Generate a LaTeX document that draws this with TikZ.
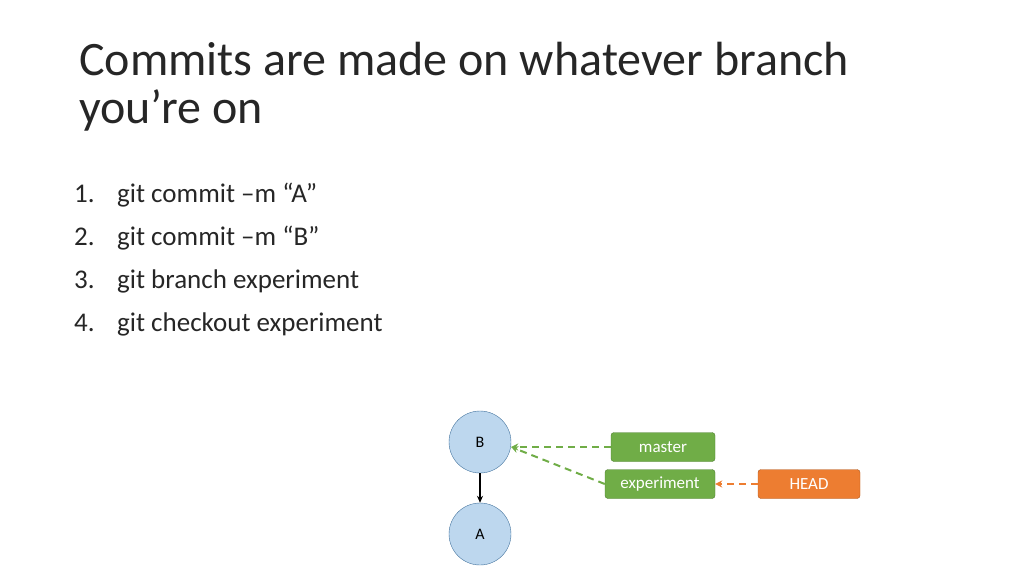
\documentclass[tikz,border=0pt]{standalone}
\usepackage{fontspec}
\setmainfont{Carlito}
\usetikzlibrary{arrows.meta,positioning}
\definecolor{commitfill}{HTML}{BDD7EE}
\definecolor{commitline}{HTML}{41719C}
\definecolor{branchgreen}{HTML}{70AD47}
\definecolor{branchline}{HTML}{507E32}
\definecolor{headorange}{HTML}{ED7D31}
\definecolor{headline}{HTML}{AE5A21}
\definecolor{titlegray}{HTML}{262626}
\tikzset{
  commit/.style={circle, draw=commitline, fill=commitfill, minimum size=62pt, inner sep=0pt, font=\fontsize{16pt}{18pt}\selectfont},
  branch/.style={draw=branchline, fill=branchgreen, rounded corners=3pt, minimum height=29pt, text=white, font=\fontsize{17pt}{19pt}\selectfont, inner sep=0pt},
  headbox/.style={branch, draw=headline, fill=headorange},
  ptr/.style={-{Stealth[length=7pt,width=7pt]}, dashed, dash pattern=on 7pt off 5pt, line width=2pt},
  item/.style={anchor=base west, font=\fontsize{27pt}{30pt}\selectfont, text=titlegray}
}
\begin{document}
\begin{tikzpicture}[x=1pt, y=-1pt]
    \useasboundingbox (0,0) rectangle (1024,576);

    % title
    \node[anchor=base west, inner sep=0pt, font=\fontsize{48pt}{52pt}\selectfont, text=titlegray] (title) at (79,75) {Commits are made on whatever branch};
    \node[anchor=base west, inner sep=0pt, font=\fontsize{48pt}{52pt}\selectfont, text=titlegray] (title2) at (79,123) {you’re on};

    % commands
    \foreach \N/\T [count=\i] in {1/git commit –m “A”, 2/git commit –m “B”, 3/git branch experiment, 4/git checkout experiment} {
      \node[item, inner sep=0pt] (num\i) at (74, 159+43*\i) {\N.};
      \node[item, inner sep=0pt] (cmd\i) at (117, 159+43*\i) {\T};
    }

    % commits
    \node[commit] (B) at (480,442) {B};
    \node[commit] (A) at (480,534) {A};
    \draw[-{Stealth[length=7pt,width=6pt]}, line width=1.5pt] (B) -- (A);

    % branches
    \node[branch, minimum width=104pt] (master) at (663,447) {master};
    \node[branch, minimum width=110pt] (experiment) at (660,484) {experiment};
    \node[headbox, minimum width=102pt] (head) at (809,484) {HEAD};

    \draw[ptr, draw=branchgreen] (master) -- (B.east |- master);
    \draw[ptr, draw=branchgreen] (experiment.west) -- ([yshift=-5pt]B.east);
    \draw[ptr, draw=headorange] (head) -- (experiment);
\end{tikzpicture}
\end{document}
